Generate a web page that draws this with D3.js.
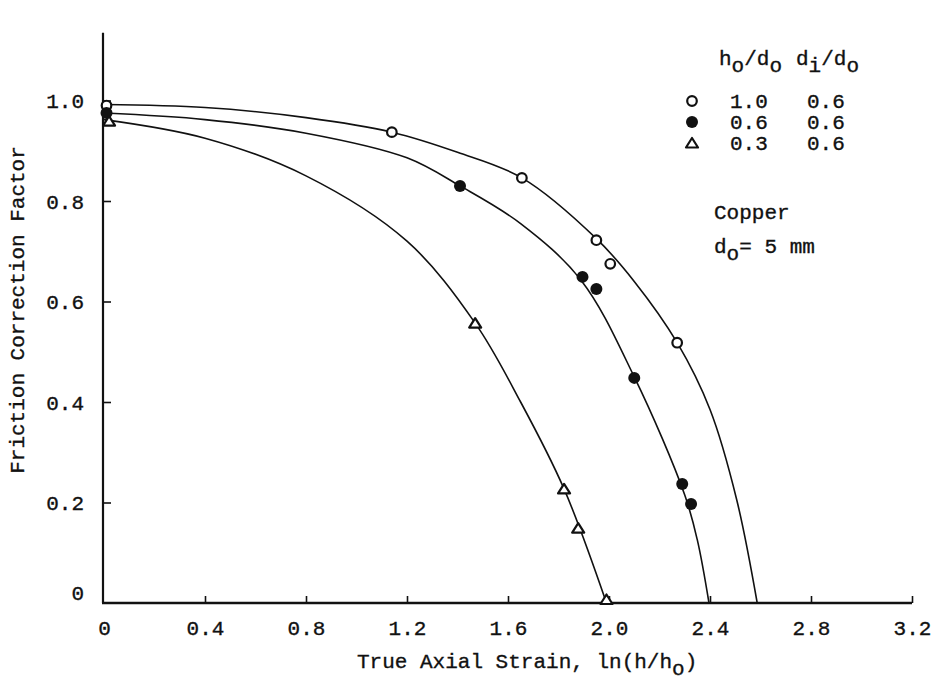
<!DOCTYPE html>
<html>
<head>
<meta charset="utf-8">
<script src="https://cdn.jsdelivr.net/npm/d3@7"></script>
<style>
  body { margin: 0; background: #fff; }
  text { font-family: "Liberation Mono", "DejaVu Sans Mono", monospace; fill: #111; stroke: #111; stroke-width: 0.35px; }
</style>
</head>
<body>
<svg id="chart" width="934" height="688"></svg>
<script>
// measured points (strain, friction factor)
const strainOpen = [0.01, 1.14, 1.655, 1.95, 2.005, 2.27];
const factorOpen = [0.99, 0.937, 0.846, 0.722, 0.675, 0.518];
const strainFilled = [0.01, 1.41, 1.895, 1.95, 2.10, 2.29, 2.325];
const factorFilled = [0.975, 0.83, 0.649, 0.625, 0.448, 0.237, 0.197];
const strainTri = [0.02, 1.47, 1.822, 1.878, 1.99];
const factorTri = [0.959, 0.557, 0.227, 0.149, 0.007];

// fitted curves
const fitOpenX = [0, 0.4, 0.8, 1.14, 1.4, 1.655, 1.95, 2.1, 2.27, 2.4, 2.506, 2.587];
const fitOpenY = [0.992, 0.986, 0.966, 0.937, 0.897, 0.846, 0.725, 0.64, 0.518, 0.385, 0.205, 0];
const fitFilledX = [0, 0.4, 0.8, 1.2, 1.41, 1.65, 1.89, 2.1, 2.3, 2.35, 2.396];
const fitFilledY = [0.975, 0.962, 0.935, 0.886, 0.83, 0.755, 0.642, 0.45, 0.215, 0.125, 0];
const fitTriX = [0, 0.4, 0.8, 1.2, 1.47, 1.65, 1.822, 1.99];
const fitTriY = [0.962, 0.925, 0.85, 0.72, 0.557, 0.40, 0.227, 0];

// axis ticks and legend
const xTicks = [0, 0.4, 0.8, 1.2, 1.6, 2.0, 2.4, 2.8, 3.2];
const yTicks = [0, 0.2, 0.4, 0.6, 0.8, 1.0];
const legendHo = ['1.0', '0.6', '0.3'];
const legendDi = ['0.6', '0.6', '0.6'];
const legendKind = ['open', 'filled', 'tri'];

const fs = 21;
const svg = d3.select('#chart');
const x = d3.scaleLinear().domain([0, 3.2]).range([104, 912]);
const y = d3.scaleLinear().domain([0, 1]).range([603, 100.5]);

// axes lines
svg.append('line')
  .attr('x1', x(0) - 1).attr('x2', x(0) - 1)
  .attr('y1', y(0)).attr('y2', y(1.135))
  .attr('stroke', '#111').attr('stroke-width', 2.2);
svg.append('line')
  .attr('x1', x(0) - 2).attr('x2', x(3.2))
  .attr('y1', y(0)).attr('y2', y(0))
  .attr('stroke', '#111').attr('stroke-width', 2.4);

const fmtX = (d) => (d === 0 ? '0' : d3.format('.1f')(d));
const xAxis = d3.axisBottom(x).tickValues(xTicks).tickSizeInner(-7).tickSizeOuter(0).tickFormat(fmtX);
const gx = svg.append('g').attr('transform', `translate(0,${y(0)})`).call(xAxis);
gx.select('.domain').remove();
gx.selectAll('.tick line').attr('stroke', '#111').attr('stroke-width', 1.6)
  .filter((d) => d === 0).remove();
gx.selectAll('.tick text')
  .attr('y', 32).attr('dy', 0)
  .attr('font-size', fs).attr('fill', '#111')
  .style('font-family', '"Liberation Mono", monospace');

const yAxis = d3.axisLeft(y).tickValues(yTicks).tickSizeInner(-8).tickSizeOuter(0).tickFormat(fmtX);
const gy = svg.append('g').attr('transform', `translate(${x(0) - 1},0)`).call(yAxis);
gy.select('.domain').remove();
gy.selectAll('.tick line').attr('stroke', '#111').attr('stroke-width', 1.6)
  .filter((d) => d === 0).remove();
gy.selectAll('.tick text')
  .attr('x', -19).attr('dy', '0.35em')
  .attr('font-size', fs).attr('fill', '#111')
  .style('font-family', '"Liberation Mono", monospace');
gy.selectAll('.tick').filter((d) => d === 0).select('text').attr('dy', '-0.15em');

// fitted curves
const line = d3.line().x((d) => x(d[0])).y((d) => y(d[1])).curve(d3.curveCatmullRom.alpha(0.5));
[[fitOpenX, fitOpenY], [fitFilledX, fitFilledY], [fitTriX, fitTriY]].forEach(([xs, ys]) => {
  svg.append('path')
    .datum(d3.zip(xs, ys))
    .attr('d', line)
    .attr('fill', 'none')
    .attr('stroke', '#111')
    .attr('stroke-width', 1.6);
});

function drawMarker(g, kind) {
  if (kind === 'open') {
    g.append('circle').attr('r', 4.8).attr('fill', '#fff').attr('stroke', '#111').attr('stroke-width', 2.2);
  } else if (kind === 'filled') {
    g.append('circle').attr('r', 6).attr('fill', '#111');
  } else {
    g.append('path').attr('d', 'M-6,4.5 L0,-5 L6,4.5 Z')
      .attr('fill', '#fff').attr('stroke', '#111').attr('stroke-width', 2.2).attr('stroke-linejoin', 'round');
  }
}

const sets = [
  ['open', strainOpen, factorOpen],
  ['filled', strainFilled, factorFilled],
  ['tri', strainTri, factorTri],
];
sets.forEach(([kind, xs, ys]) => {
  svg.append('g').selectAll('g')
    .data(d3.zip(xs, ys))
    .enter()
    .append('g')
    .attr('transform', (d) => `translate(${x(d[0])},${y(d[1])})`)
    .each(function () { drawMarker(d3.select(this), kind); });
});

// legend
const hdr = svg.append('text').attr('x', 719).attr('y', 65).attr('font-size', fs);
hdr.append('tspan').text('h');
hdr.append('tspan').attr('dy', 7).text('o');
hdr.append('tspan').attr('dy', -7).text('/d');
hdr.append('tspan').attr('dy', 7).text('o');
const hdr2 = svg.append('text').attr('x', 796).attr('y', 65).attr('font-size', fs);
hdr2.append('tspan').text('d');
hdr2.append('tspan').attr('dy', 7).text('i');
hdr2.append('tspan').attr('dy', -7).text('/d');
hdr2.append('tspan').attr('dy', 7).text('o');

const rows = svg.append('g').selectAll('g')
  .data(legendKind)
  .enter()
  .append('g')
  .attr('transform', (d, i) => `translate(0,${101 + i * 21})`);
rows.append('g').attr('transform', 'translate(692,0)').each(function (d) { drawMarker(d3.select(this), d); });
rows.append('text').attr('x', 730).attr('y', 7).attr('font-size', fs).text((d, i) => legendHo[i]);
rows.append('text').attr('x', 807).attr('y', 7).attr('font-size', fs).text((d, i) => legendDi[i]);

svg.append('text').attr('x', 714).attr('y', 219).attr('font-size', fs).text('Copper');
const dia = svg.append('text').attr('x', 714).attr('y', 253).attr('font-size', fs);
dia.append('tspan').text('d');
dia.append('tspan').attr('dy', 7).text('o');
dia.append('tspan').attr('dy', -7).text('= 5 mm');

// axis titles
const xt = svg.append('text').attr('x', 357).attr('y', 668).attr('font-size', fs);
xt.append('tspan').text('True Axial Strain,  ln(h/h');
xt.append('tspan').attr('dy', 7).text('o');
xt.append('tspan').attr('dy', -7).text(')');

svg.append('text')
  .attr('transform', 'translate(24,310) rotate(-90)')
  .attr('text-anchor', 'middle')
  .attr('font-size', fs)
  .text('Friction Correction Factor');
</script>
</body>
</html>
